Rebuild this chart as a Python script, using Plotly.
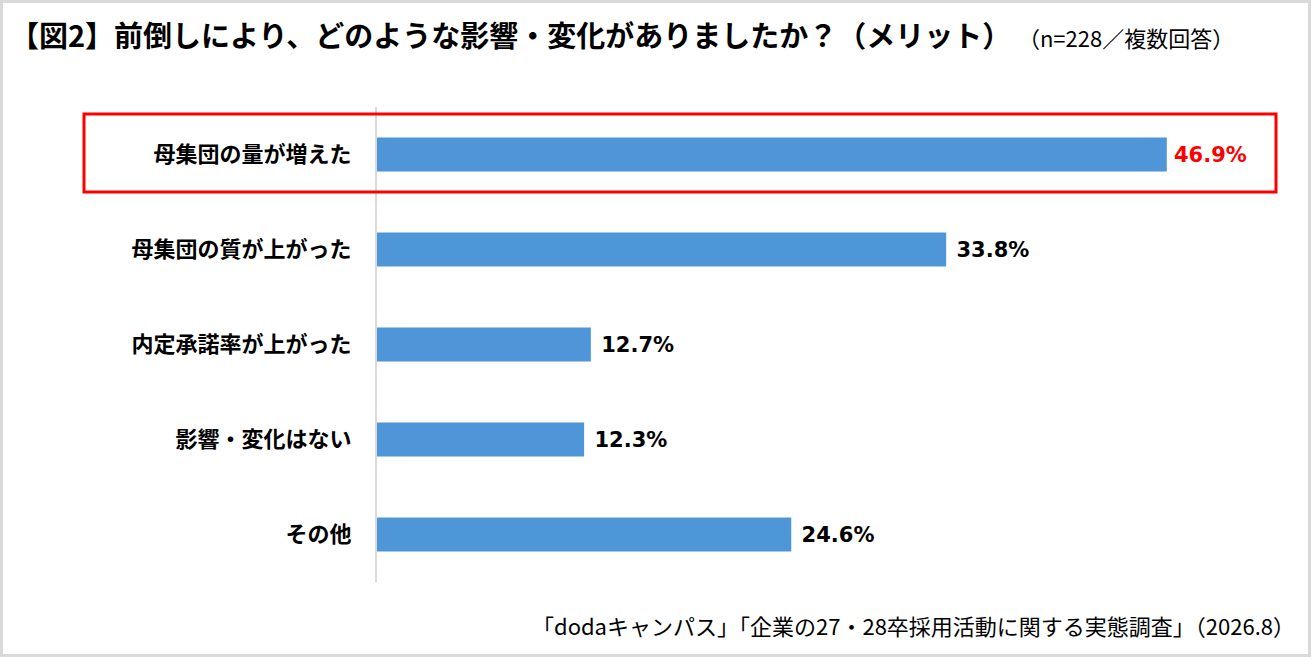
import plotly.graph_objects as go

categories = ["母集団の量が増えた", "母集団の質が上がった", "内定承諾率が上がった", "影響・変化はない", "その他"]
values = [46.9, 33.8, 12.7, 12.3, 24.6]
label_colors = ["#FF0000", "#000000", "#000000", "#000000", "#000000"]
label_templates = ["\u2009%{x:.1f}%"] + ["\u00a0%{x:.1f}%"] * 4

title_text = "【図2】前倒しにより、どのような影響・変化がありましたか？（メリット）"
sub_text = "（n=228／複数回答）"
source_text = "「dodaキャンパス」「企業の27・28卒採用活動に関する実態調査」（2026.8）"

FONT = "Noto Sans CJK JP"
NUM_FONT = "DejaVu Sans"
W, H = 1312, 668
L, R, T, B = 377, 93, 107, 86
pw = W - L - R
ph = H - T - B

def px_x(x):
    return (x - L) / pw

def px_y(y):
    return (H - B - y) / ph

fig = go.Figure()
fig.add_trace(go.Bar(
    y=categories,
    x=values,
    orientation="h",
    marker=dict(color="#4F96D8", line=dict(width=0)),
    width=0.36,
    texttemplate=label_templates,
    textposition="outside",
    textfont=dict(family=NUM_FONT, size=21, color=label_colors, weight="bold"),
    cliponaxis=False,
    hoverinfo="skip",
))

fig.update_layout(
    width=W, height=H,
    margin=dict(l=L, r=R, t=T, b=B),
    paper_bgcolor="white",
    plot_bgcolor="white",
    showlegend=False,
    font=dict(family=FONT, color="#000000"),
    xaxis=dict(range=[0, 50], visible=False, fixedrange=True),
    yaxis=dict(
        categoryorder="array", categoryarray=categories,
        range=[4.5, -0.5],
        showline=True, linecolor="#D9D9D9", linewidth=2,
        showgrid=False, zeroline=False, ticks="",
        tickfont=dict(family=FONT, size=22, color="#000000", weight="bold"),
        ticklabelstandoff=19,
        fixedrange=True,
    ),
    bargap=0.64,
)

# title
fig.add_annotation(
    xref="paper", yref="paper",
    x=px_x(8), y=px_y(34),
    xanchor="left", yanchor="middle",
    text="<b>" + title_text + "</b>\u00a0<span style='font-size:22px'>" + sub_text + "</span>",
    showarrow=False,
    font=dict(family=FONT, size=29, color="#000000"),
)

# source
fig.add_annotation(
    xref="paper", yref="paper",
    x=px_x(1297), y=px_y(625),
    xanchor="right", yanchor="middle",
    text=source_text,
    showarrow=False,
    font=dict(family=FONT, size=22, color="#000000"),
)

# highlight box around first row
fig.add_shape(
    type="rect", xref="paper", yref="paper",
    x0=px_x(84), x1=px_x(1276), y0=px_y(192), y1=px_y(114),
    line=dict(color="#FF0000", width=3), fillcolor="rgba(0,0,0,0)",
)

# outer border
fig.add_shape(
    type="rect", xref="paper", yref="paper",
    x0=px_x(1.5), x1=px_x(1309.5), y0=px_y(655.5), y1=px_y(1.5),
    line=dict(color="#D9D9D9", width=3), fillcolor="rgba(0,0,0,0)",
    layer="below",
)

fig.write_html(
    "out.html",
    config={"displayModeBar": False},
    post_script="document.body.style.margin='0';document.body.style.overflow='hidden';",
)
